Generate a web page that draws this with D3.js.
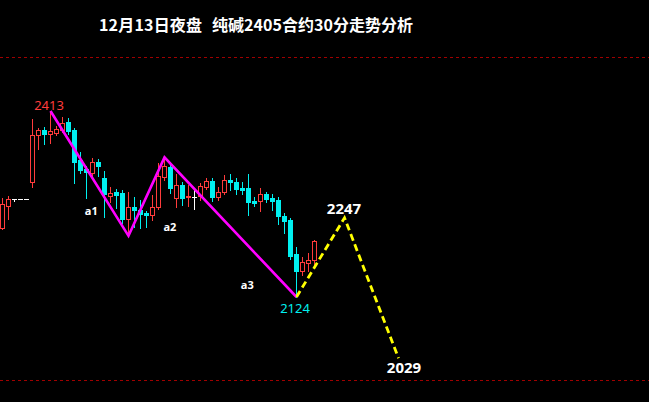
<!DOCTYPE html>
<html><head><meta charset="utf-8">
<script src="https://cdn.jsdelivr.net/npm/d3@7/dist/d3.min.js"></script>
<style>html,body{margin:0;padding:0;background:#000;}svg{display:block;}</style>
</head><body>
<svg id="c" width="649" height="402"></svg>
<script>
const title1 = "12月13日夜盘";
const title2 = "纯碱2405合约30分走势分析";
const opens  = [2231,2265,2276,2276,2276,2303,2376,2383,2377,2379,2383,2396,2383,2337,2323,2317,2334,2309,2281,2287,2286,2245,2264,2259,2254,2251,2264,2310,2326,2278,2298,2279,2279,2281,2295,2304,2279,2287,2306,2303,2293,2293,2273,2273,2284,2278,2275,2250,2244,2191,2164,2177,2181];
const highs  = [2278,2281,2276,2276,2276,2401,2387,2388,2413,2390,2404,2402,2387,2349,2327,2340,2338,2320,2295,2292,2290,2287,2279,2275,2258,2282,2332,2341,2334,2315,2303,2298,2290,2301,2309,2309,2295,2314,2315,2309,2303,2315,2279,2293,2287,2284,2279,2255,2247,2202,2186,2192,2213];
const lows   = [2230,2245,2273,2276,2276,2295,2354,2362,2363,2376,2381,2377,2301,2317,2278,2310,2312,2248,2272,2262,2239,2219,2233,2231,2233,2244,2261,2306,2286,2264,2267,2265,2261,2275,2292,2273,2275,2284,2290,2284,2284,2251,2265,2258,2272,2259,2237,2223,2183,2124,2158,2164,2174];
const closes = [2269,2276,2276,2276,2276,2376,2383,2377,2382,2385,2394,2382,2334,2321,2318,2334,2327,2284,2286,2282,2245,2264,2259,2253,2251,2264,2312,2328,2293,2298,2278,2281,2279,2296,2304,2279,2287,2306,2303,2292,2290,2272,2270,2284,2276,2273,2250,2242,2188,2164,2178,2181,2211];
const waveIdx = [8,21,27,49];
const waveVal = [2413,2219,2341,2124];
const fcIdx = [49,57,66];
const fcVal = [2124,2247,2029];
const waveNames = ["a1","a2","a3"];
const waveNameIdx = [14.8,27.9,40.8];
const waveNameVal = [2251,2227,2136];
const guideVal = [2497,1995];

const svg = d3.select("#c");
svg.append("rect").attr("width",649).attr("height",402).attr("fill","#000");

const x = d3.scaleLinear().domain([0,100]).range([2.5,602.5]);
const y = d3.scaleLinear().domain([2124,2413]).range([297,111]);
const py = v => Math.round(y(v));

const RED = "#ff3c3c", CYAN = "#00f0f0", WHITE = "#ffffff";

// guide lines
svg.selectAll("line.guide").data(guideVal).enter().append("line")
  .attr("x1",0).attr("x2",649)
  .attr("y1",d=>Math.round(y(d))+0.5).attr("y2",d=>Math.round(y(d))+0.5)
  .attr("stroke","#a00000").attr("stroke-width",1).attr("stroke-dasharray","3,3");

// title
svg.append("text").attr("x",99).attr("y",31).text(title1)
  .attr("fill","#fff").attr("font-family","'Noto Sans CJK SC'").attr("font-weight","bold")
  .attr("font-size",16).attr("textLength",103).attr("lengthAdjust","spacing");
svg.append("text").attr("x",212).attr("y",31).text(title2)
  .attr("fill","#fff").attr("font-family","'Noto Sans CJK SC'").attr("font-weight","bold")
  .attr("font-size",16).attr("textLength",201).attr("lengthAdjust","spacing");

// candles
const candles = opens.map((o,i)=>({i,o,h:highs[i],l:lows[i],c:closes[i]}));
const g = svg.append("g").attr("shape-rendering","crispEdges");
candles.forEach(d=>{
  const cx = x(d.i);
  const yh = py(d.h), yl = py(d.l);
  const top = py(Math.max(d.o,d.c)), bot = py(Math.min(d.o,d.c));
  if (d.c > d.o) {
    if (top > yh) g.append("line").attr("x1",cx).attr("x2",cx).attr("y1",yh).attr("y2",top).attr("stroke",RED);
    if (yl > bot) g.append("line").attr("x1",cx).attr("x2",cx).attr("y1",bot+1).attr("y2",yl+1).attr("stroke",RED);
    g.append("rect").attr("x",cx-2).attr("y",top+0.5).attr("width",4).attr("height",Math.max(bot-top,1))
      .attr("fill","#000").attr("stroke",RED).attr("stroke-width",1);
  } else if (d.c < d.o) {
    g.append("line").attr("x1",cx).attr("x2",cx).attr("y1",yh).attr("y2",yl+1).attr("stroke",CYAN);
    g.append("rect").attr("x",cx-2.5).attr("y",top).attr("width",5).attr("height",Math.max(bot-top,1)+1).attr("fill",CYAN);
  } else {
    g.append("line").attr("x1",cx).attr("x2",cx).attr("y1",yh).attr("y2",yl+1).attr("stroke",WHITE);
    g.append("line").attr("x1",cx-2.5).attr("x2",cx+2.5).attr("y1",top+0.5).attr("y2",top+0.5).attr("stroke",WHITE);
  }
});

// wave zigzag
const line = d3.line().x(d=>x(d[0])).y(d=>y(d[1]));
svg.append("path").datum(waveIdx.map((d,k)=>[d,waveVal[k]])).attr("d",line)
  .attr("fill","none").attr("stroke","#ff00ff").attr("stroke-width",2.6);
// forecast
svg.append("path").datum(fcIdx.map((d,k)=>[d,fcVal[k]])).attr("d",line)
  .attr("fill","none").attr("stroke","#ffff00").attr("stroke-width",2.8).attr("stroke-dasharray","7,4");

// value labels
svg.append("text").attr("x",x(waveIdx[0])-1.5).attr("y",y(waveVal[0])-1).attr("text-anchor","middle")
  .attr("fill",RED).attr("font-family","'Noto Sans',sans-serif").attr("font-size",13).text(waveVal[0]);
svg.append("text").attr("x",x(waveIdx[3])-1.5).attr("y",y(waveVal[3])+16).attr("text-anchor","middle")
  .attr("fill",CYAN).attr("font-family","'Noto Sans',sans-serif").attr("font-size",13).text(waveVal[3]);
svg.append("text").attr("x",x(fcIdx[1])-0.5).attr("y",y(fcVal[1])-4).attr("text-anchor","middle")
  .attr("fill","#fff").attr("font-weight","bold").attr("font-family","'Noto Sans',sans-serif").attr("font-size",15).text(fcVal[1]);
svg.append("text").attr("x",x(fcIdx[2])+5.5).attr("y",y(fcVal[2])+15).attr("text-anchor","middle")
  .attr("fill","#fff").attr("font-weight","bold").attr("font-family","'Noto Sans',sans-serif").attr("font-size",15).text(fcVal[2]);

// wave names
svg.selectAll("text.wn").data(waveNames).enter().append("text")
  .attr("x",(d,k)=>x(waveNameIdx[k])).attr("y",(d,k)=>y(waveNameVal[k])).attr("text-anchor","middle")
  .attr("fill","#fff").attr("font-weight","bold").attr("font-family","'Noto Sans',sans-serif").attr("font-size",11)
  .text(d=>d);
</script>
</body></html>
